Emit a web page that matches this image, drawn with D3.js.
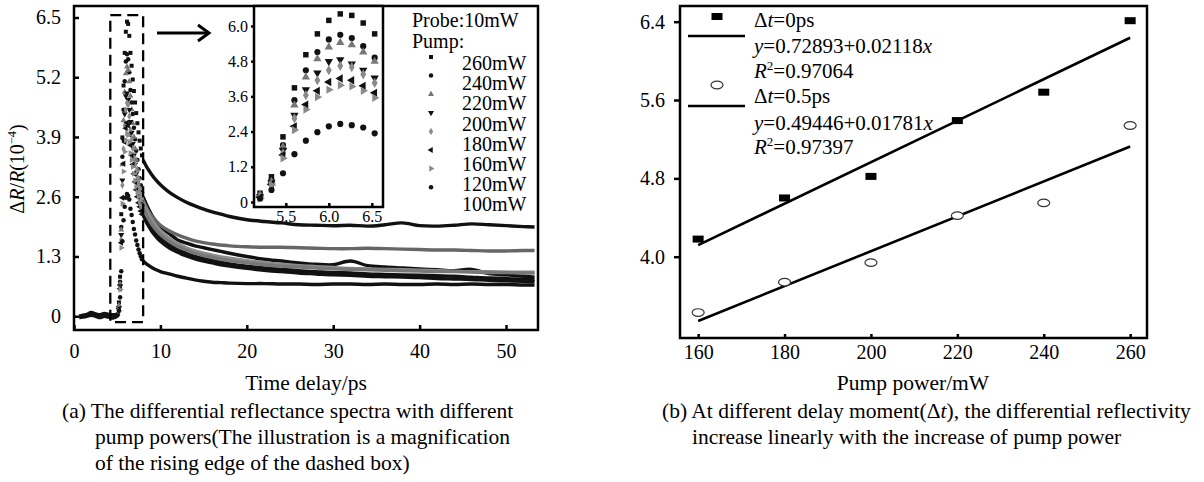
<!DOCTYPE html>
<html><head><meta charset="utf-8">
<script src="https://cdn.jsdelivr.net/npm/d3@7"></script>
<style>body{margin:0;background:#fff} svg{display:block;background:#fff}</style>
</head><body><svg id="c" width="1204" height="482"></svg>
<script>
// ---------------- DATA ----------------
const seriesNames = ["260mW","240mW","220mW","200mW","180mW","160mW","120mW","100mW"];
const riseT = [5.2,5.333,5.467,5.6,5.733,5.867,6.0,6.133,6.267,6.4,6.533];
const rise260 = [0.30,0.86,2.22,3.89,5.02,5.73,6.19,6.41,6.36,6.10,5.73];
const rise240 = [0.18,0.75,1.94,3.47,4.49,5.11,5.54,5.70,5.59,5.31,4.92];
const rise220 = [0.24,0.70,1.88,3.30,4.26,4.88,5.28,5.43,5.36,5.11,4.79];
const rise200 = [0.18,0.66,1.77,2.96,3.83,4.40,4.79,4.85,4.71,4.49,4.23];
const rise180 = [0.18,0.60,1.66,2.85,3.64,4.15,4.49,4.64,4.60,4.35,4.06];
const rise160 = [0.16,0.60,1.60,2.58,3.32,3.79,4.09,4.21,4.15,3.96,3.72];
const rise120 = [0.12,0.58,1.49,2.45,3.15,3.58,3.83,3.98,3.94,3.79,3.55];
const rise100 = [0.12,0.41,0.98,1.63,2.09,2.38,2.58,2.66,2.62,2.54,2.34];

const fallT = [6.667,6.8,6.933,7.067,7.2,7.333,7.467,7.6,7.733,7.867];
const fall260 = [5.45,5.15,4.90,4.65,4.42,4.20,4.00,3.82,3.65,3.50];
const fall240 = [4.65,4.40,4.10,3.85,3.60,3.40,3.20,3.00,2.85,2.70];
const fall220 = [4.50,4.20,3.90,3.65,3.40,3.20,3.00,2.80,2.65,2.55];
const fall200 = [4.00,3.75,3.50,3.30,3.10,2.90,2.75,2.60,2.48,2.38];
const fall180 = [3.85,3.65,3.45,3.30,3.15,3.00,2.88,2.76,2.65,2.56];
const fall160 = [3.50,3.30,3.10,2.92,2.75,2.60,2.47,2.38,2.29,2.22];
const fall120 = [3.40,3.25,3.10,2.95,2.82,2.70,2.60,2.50,2.42,2.38];
const fall100 = [2.20,2.05,1.90,1.78,1.65,1.55,1.45,1.37,1.30,1.24];

const decayT = [8,8.5,9,9.5,10,11,12,13,14,15,16,17,18,20,22,24,26,28,30,32,34,36,38,40,42,44,46,48,50,52,53.3];
const decay260 = [3.40,3.22,3.08,2.96,2.86,2.70,2.58,2.48,2.40,2.33,2.27,2.22,2.17,2.10,2.06,2.03,1.99,1.98,1.97,1.98,1.96,1.99,2.03,1.97,1.96,1.98,2.01,1.99,1.97,1.95,1.94];
const decay240 = [2.60,2.38,2.20,2.06,1.95,1.80,1.66,1.59,1.53,1.49,1.45,1.41,1.37,1.30,1.24,1.20,1.16,1.13,1.12,1.20,1.10,1.07,1.05,1.03,1.01,0.99,1.02,0.93,0.90,0.87,0.85];
const decay220 = [2.50,2.32,2.18,2.07,1.98,1.86,1.77,1.70,1.64,1.60,1.57,1.55,1.53,1.51,1.50,1.50,1.49,1.48,1.47,1.47,1.48,1.47,1.46,1.45,1.44,1.44,1.43,1.42,1.42,1.43,1.43];
const decay200 = [2.30,2.10,1.94,1.81,1.71,1.56,1.45,1.37,1.30,1.25,1.21,1.17,1.14,1.09,1.05,1.02,0.99,0.97,0.95,0.94,0.92,0.91,0.90,0.89,0.88,0.87,0.85,0.83,0.82,0.80,0.80];
const decay180 = [2.50,2.28,2.10,1.97,1.86,1.70,1.58,1.49,1.42,1.37,1.33,1.29,1.26,1.21,1.17,1.13,1.10,1.08,1.06,1.04,1.03,1.02,1.01,1.00,0.99,0.98,0.97,0.97,0.96,0.96,0.96];
const decay160 = [2.20,2.00,1.85,1.73,1.63,1.49,1.39,1.31,1.25,1.20,1.16,1.12,1.09,1.04,1.00,0.97,0.94,0.92,0.90,0.89,0.87,0.86,0.85,0.84,0.82,0.81,0.80,0.78,0.77,0.76,0.75];
const decay120 = [2.35,2.16,2.00,1.88,1.78,1.63,1.52,1.44,1.37,1.32,1.28,1.24,1.21,1.16,1.12,1.09,1.07,1.05,1.03,1.02,1.01,1.00,0.99,0.98,0.97,0.97,0.96,0.95,0.95,0.94,0.94];
const decay100 = [1.20,1.12,1.06,1.01,0.97,0.92,0.87,0.83,0.79,0.76,0.74,0.73,0.72,0.71,0.71,0.70,0.70,0.69,0.70,0.70,0.69,0.70,0.69,0.69,0.70,0.69,0.70,0.69,0.69,0.68,0.68];

const baseT  = [0.6,1.0,1.5,2.0,2.5,3.0,3.5,4.0,4.5,5.0,5.2];
const baseA  = [0.00,0.02,0.04,0.08,0.05,0.03,0.06,0.04,0.03,0.05,0.10];
const baseB  = [-0.03,-0.02,0.00,0.02,0.00,-0.03,0.00,-0.02,-0.04,0.00,0.05];

const boxT = [4.2, 8.0];
const boxV = [-0.13, 6.55];

const xTicksA = [0,10,20,30,40,50];
const xTickLabelsA = ["0","10","20","30","40","50"];
const yTicksA = [0,1.3,2.6,3.9,5.2,6.5];
const yTickLabelsA = ["0","1.3","2.6","3.9","5.2","6.5"];
const xTicksIn = [5.5,6.0,6.5];
const xTickLabelsIn = ["5.5","6.0","6.5"];
const yTicksIn = [0,1.2,2.4,3.6,4.8,6.0];
const yTickLabelsIn = ["0","1.2","2.4","3.6","4.8","6.0"];

const powerB = [160,180,200,220,240,260];
const val0ps = [4.18,4.60,4.82,5.39,5.68,6.41];
const val05ps = [3.43,3.74,3.94,4.42,4.55,5.34];
const fitX = [160,260];
const fit0ps = [4.118,6.236];
const fit05ps = [3.344,5.125];
const xTicksB = [160,180,200,220,240,260];
const xTickLabelsB = ["160","180","200","220","240","260"];
const yTicksB = [4.0,4.8,5.6,6.4];
const yTickLabelsB = ["4.0","4.8","5.6","6.4"];

// ---------------- STYLE ----------------
const FONT = "'Liberation Serif','Times New Roman',serif";
const riseV = [rise260,rise240,rise220,rise200,rise180,rise160,rise120,rise100];
const fallV = [fall260,fall240,fall220,fall200,fall180,fall160,fall120,fall100];
const decayV = [decay260,decay240,decay220,decay200,decay180,decay160,decay120,decay100];
const shapes = ["square","circle","triUp","triDown","diamond","triLeft","triRight","circle"];
const markColor = ["#111","#111","#777","#111","#8a8a8a","#111","#8a8a8a","#111"];
const lineColor = ["#111","#111","#666","#111","#8c8c8c","#111","#787878","#111"];

const svg = d3.select("#c");

function symPath(shape, size){
  const t = shape==="square"?d3.symbolSquare:shape==="circle"?d3.symbolCircle:shape==="diamond"?d3.symbolDiamond:d3.symbolTriangle;
  return d3.symbol().type(t).size(size)();
}
function symRot(shape){ return shape==="triDown"?180:shape==="triLeft"?-90:shape==="triRight"?90:0; }
function mark(g, x, y, shape, size, color){
  g.append("path").attr("d", symPath(shape,size))
   .attr("transform", `translate(${x},${y}) rotate(${symRot(shape)})`)
   .attr("fill", color);
}
function rich(g, x, y, segs, size, anchor, transform){
  const t = g.append("text").attr("x",x).attr("y",y).attr("font-size",size)
    .attr("font-family",FONT).attr("fill","#000");
  if(anchor) t.attr("text-anchor",anchor);
  if(transform) t.attr("transform",transform);
  let prevSup=false;
  segs.forEach(s=>{
    const sp = t.append("tspan").text(s.t);
    if(s.i) sp.attr("font-style","italic");
    if(s.sup){ sp.attr("font-size",size*0.62).attr("dy",-size*0.4); }
    else if(prevSup){ sp.attr("dy",size*0.4); }
    prevSup=!!s.sup;
  });
  return t;
}
function styleAxis(g, fs){
  g.select(".domain").remove();
  g.selectAll(".tick line").attr("stroke","#000").attr("stroke-width",2.5);
  g.selectAll(".tick text").attr("font-size",fs).attr("font-family",FONT).attr("fill","#000");
}

// ---------------- PANEL A ----------------
const xA = d3.scaleLinear().domain([0,53.7]).range([74,538]);
const yA = d3.scaleLinear().domain([-0.3,6.75]).range([330,6]);

const gA = svg.append("g");
const line = d3.line().x(d=>xA(d[0])).y(d=>yA(d[1])).curve(d3.curveCatmullRom);

[baseA, baseB].forEach(arr=>{
  gA.append("path").datum(baseT.map((t,i)=>[t,arr[i]])).attr("d",line)
    .attr("fill","none").attr("stroke","#111").attr("stroke-width",3.5);
});

decayV.forEach((arr,k)=>{
  gA.append("path").datum(decayT.map((t,i)=>[t,arr[i]])).attr("d",line)
    .attr("fill","none").attr("stroke",lineColor[k]).attr("stroke-width",3.4)
    .attr("stroke-linejoin","round");
});
riseV.forEach((arr,k)=>{
  const pts = riseT.map((t,i)=>[t,arr[i]]).concat(fallT.map((t,i)=>[t,fallV[k][i]]));
  pts.forEach(p=>mark(gA, xA(p[0]), yA(p[1]), shapes[k], 16, markColor[k]));
});

gA.append("rect").attr("x",xA(boxT[0])).attr("y",yA(boxV[1]))
  .attr("width",xA(boxT[1])-xA(boxT[0])).attr("height",yA(boxV[0])-yA(boxV[1]))
  .attr("fill","none").attr("stroke","#000").attr("stroke-width",2.3).attr("stroke-dasharray","11,6");

gA.append("line").attr("x1",157).attr("y1",33).attr("x2",208).attr("y2",33)
  .attr("stroke","#000").attr("stroke-width",3);
gA.append("polyline").attr("points","198,25 209,33 198,41").attr("fill","none")
  .attr("stroke","#000").attr("stroke-width",3);

const gxA = svg.append("g").attr("transform","translate(0,330)")
  .call(d3.axisBottom(xA).tickValues(xTicksA).tickSize(-5).tickPadding(14).tickFormat((d,i)=>xTickLabelsA[i]));
styleAxis(gxA,20);
const gyA = svg.append("g").attr("transform","translate(74,0)")
  .call(d3.axisLeft(yA).tickValues(yTicksA).tickSize(-5).tickPadding(13).tickFormat((d,i)=>yTickLabelsA[i]));
styleAxis(gyA,20);
svg.append("rect").attr("x",74).attr("y",6).attr("width",464).attr("height",324)
  .attr("fill","none").attr("stroke","#000").attr("stroke-width",2.5);

rich(svg, 0, 0, [{t:"Δ"},{t:"R",i:1},{t:"/"},{t:"R",i:1},{t:"(10"},{t:"−4",sup:1},{t:")"}], 20, "middle", "translate(24,169) rotate(-90)");

// inset
const xI = d3.scaleLinear().domain([5.13,6.63]).range([254,383]);
const yI = d3.scaleLinear().domain([-0.17,6.68]).range([207,6]);
const gI = svg.append("g");
gI.append("rect").attr("x",254).attr("y",6).attr("width",129).attr("height",201).attr("fill","#fff");
riseV.forEach((arr,k)=>{
  arr.forEach((v,i)=>mark(gI, xI(riseT[i]), yI(v), shapes[k], 30, markColor[k]));
});
const gxI = gI.append("g").attr("transform","translate(0,207)")
  .call(d3.axisBottom(xI).tickValues(xTicksIn).tickSize(-4).tickPadding(4).tickFormat((d,i)=>xTickLabelsIn[i]));
styleAxis(gxI,16);
const gyI = gI.append("g").attr("transform","translate(254,0)")
  .call(d3.axisLeft(yI).tickValues(yTicksIn).tickSize(3).tickPadding(3).tickFormat((d,i)=>yTickLabelsIn[i]));
styleAxis(gyI,16);
gI.append("rect").attr("x",254).attr("y",6).attr("width",129).attr("height",201)
  .attr("fill","none").attr("stroke","#000").attr("stroke-width",2.5);

// legend A
rich(svg, 412, 27, [{t:"Probe:10mW"}], 20);
rich(svg, 412, 48, [{t:"Pump:"}], 20);
seriesNames.forEach((n,k)=>{
  rich(svg, 462, 70 + k*20.2, [{t:n}], 20);
  mark(svg, 431, 57 + k*18.6, shapes[k], 16, markColor[k]);
});

rich(svg, 306, 390, [{t:"Time delay/ps"}], 21.5, "middle");
rich(svg, 62, 418, [{t:"(a) The differential reflectance spectra with different"}], 21.5);
rich(svg, 95, 444, [{t:"pump powers(The illustration is a magnification"}], 21.5);
rich(svg, 95, 470, [{t:"of the rising edge of the dashed box)"}], 21.5);

// ---------------- PANEL B ----------------
const xB = d3.scaleLinear().domain([155.8,263.9]).range([680,1147]);
const yB = d3.scaleLinear().domain([3.17,6.56]).range([338,6]);
const gB = svg.append("g");
const lineB = d3.line().x(d=>xB(d[0])).y(d=>yB(d[1]));
gB.append("path").datum(fitX.map((x,i)=>[x,fit0ps[i]])).attr("d",lineB).attr("stroke","#000").attr("stroke-width",2.6).attr("fill","none");
gB.append("path").datum(fitX.map((x,i)=>[x,fit05ps[i]])).attr("d",lineB).attr("stroke","#000").attr("stroke-width",2.6).attr("fill","none");
powerB.forEach((p,i)=>{
  gB.append("rect").attr("x",xB(p)-5.5).attr("y",yB(val0ps[i])-3.5).attr("width",11).attr("height",7).attr("fill","#000");
  gB.append("ellipse").attr("cx",xB(p)).attr("cy",yB(val05ps[i])).attr("rx",6).attr("ry",3.8)
    .attr("fill","#fff").attr("stroke","#333").attr("stroke-width",1.2);
});
const gxB = svg.append("g").attr("transform","translate(0,338)")
  .call(d3.axisBottom(xB).tickValues(xTicksB).tickSize(-4).tickPadding(7).tickFormat((d,i)=>xTickLabelsB[i]));
styleAxis(gxB,20);
const gyB = svg.append("g").attr("transform","translate(680,0)")
  .call(d3.axisLeft(yB).tickValues(yTicksB).tickSize(6).tickPadding(9).tickFormat((d,i)=>yTickLabelsB[i]));
styleAxis(gyB,20);
svg.append("rect").attr("x",680).attr("y",6).attr("width",467).attr("height",332)
  .attr("fill","none").attr("stroke","#000").attr("stroke-width",2.5);

// legend B
svg.append("rect").attr("x",711.5).attr("y",13).attr("width",11).attr("height",7).attr("fill","#000");
svg.append("line").attr("x1",688).attr("x2",745).attr("y1",36).attr("y2",36).attr("stroke","#000").attr("stroke-width",2.6);
svg.append("ellipse").attr("cx",717).attr("cy",85).attr("rx",6).attr("ry",3.8).attr("fill","#fff").attr("stroke","#333").attr("stroke-width",1.2);
svg.append("line").attr("x1",688).attr("x2",745).attr("y1",106).attr("y2",106).attr("stroke","#000").attr("stroke-width",2.6);
rich(svg, 754, 27, [{t:"Δ"},{t:"t",i:1},{t:"=0ps"}], 21);
rich(svg, 754, 53, [{t:"y",i:1},{t:"=0.72893+0.02118"},{t:"x",i:1}], 21);
rich(svg, 754, 78, [{t:"R",i:1},{t:"2",sup:1},{t:"=0.97064"}], 21);
rich(svg, 754, 103, [{t:"Δ"},{t:"t",i:1},{t:"=0.5ps"}], 21);
rich(svg, 754, 130, [{t:"y",i:1},{t:"=0.49446+0.01781"},{t:"x",i:1}], 21);
rich(svg, 754, 154, [{t:"R",i:1},{t:"2",sup:1},{t:"=0.97397"}], 21);

rich(svg, 913, 390, [{t:"Pump power/mW"}], 21.5, "middle");
rich(svg, 662, 418, [{t:"(b) At different delay moment("},{t:"Δ"},{t:"t",i:1},{t:"), the differential reflectivity"}], 21.5);
rich(svg, 692, 444, [{t:"increase linearly with the increase of pump power"}], 21.5);
</script></body></html>
